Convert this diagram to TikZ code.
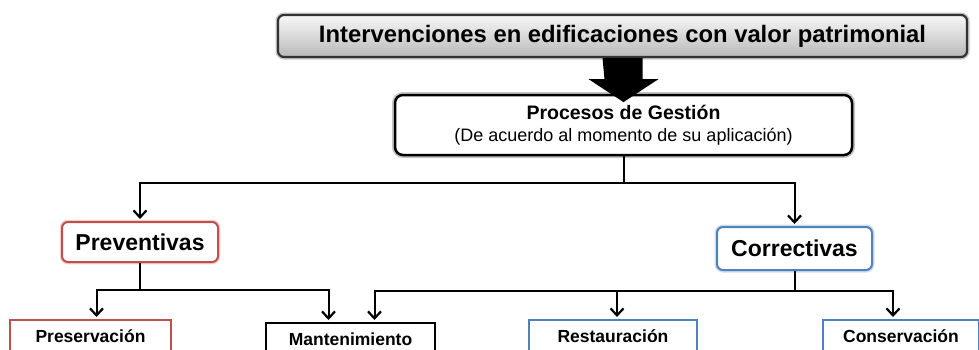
\documentclass[tikz,border=0pt]{standalone}
\usepackage{fontspec}
\setmainfont{Liberation Sans}
\usetikzlibrary{arrows.meta}
\definecolor{cred}{HTML}{C0504D}
\definecolor{cblue}{HTML}{4F81BD}
\begin{document}
\begin{tikzpicture}[x=1pt,y=-1pt,
  ln/.style={line width=2pt, draw=black},
  arr/.style={ln, -{Straight Barb[length=7pt,width=13pt,line width=2.2pt]}, shorten >=2pt},
  sqbox/.style={draw, line width=2pt, fill=white, inner sep=0pt, font=\fontsize{17.5}{20}\selectfont\bfseries},
]
\useasboundingbox (0,0) rectangle (979,349);
\clip (0,0) rectangle (979,349);

% top box
\node[draw=black!80, line width=2.2pt, rounded corners=6pt, top color=gray!6, bottom color=gray!55,
  minimum width=689pt, minimum height=42pt, inner sep=0pt,
  preaction={draw=black!45, line width=5pt, opacity=0.5},
  font=\fontsize{23.8}{26}\selectfont\bfseries] (top) at (622.5,36)
  {Intervenciones en edificaciones con valor patrimonial};

% procesos box
\node[draw=black, line width=2.5pt, rounded corners=8pt, fill=white,
  minimum width=457pt, minimum height=60pt, inner sep=0pt, align=center,
  preaction={draw=black!45, line width=6pt, opacity=0.5}] (proc) at (623.5,125)
  {{\fontsize{19.5}{21}\selectfont\bfseries Procesos de Gestión}\\[8pt]
   {\fontsize{18}{20}\selectfont (De acuerdo al momento de su aplicación)}};

% big arrow
\fill[black] ([xshift=-20pt]top.south) -- ++(40,0) -- ++(0,21) -- ++(16,0)
  -- ++(-35,23) -- ++(-35,-23) -- ++(16,0) -- cycle;

% level 2
\node[draw=cred, line width=2pt, rounded corners=6pt, fill=white,
  minimum width=156pt, minimum height=40pt, inner sep=0pt,
  preaction={draw=cred!60, line width=4.5pt, opacity=0.45},
  font=\fontsize{23}{26}\selectfont\bfseries] (prev) at (140,242) {Preventivas};
\node[draw=cblue, line width=2pt, rounded corners=6pt, fill=white,
  minimum width=155pt, minimum height=43pt, inner sep=0pt,
  preaction={draw=cblue!60, line width=5pt, opacity=0.45},
  font=\fontsize{23}{26}\selectfont\bfseries] (corr) at (794.5,248.5) {Correctivas};

% level 3
\node[sqbox, draw=cred, minimum width=161pt, minimum height=32pt] (pres) at (90.5,336) {Preservación};
\node[sqbox, draw=black, minimum width=169pt, minimum height=32pt] (mant) at (350.5,339) {Mantenimiento};
\node[sqbox, draw=cblue, minimum width=168pt, minimum height=32pt] (rest) at (613,336) {Restauración};
\node[sqbox, draw=cblue, minimum width=156pt, minimum height=32pt] (cons) at (901,336) {Conservación};

% connectors
\coordinate (j1) at (623.5,183);
\coordinate (j2) at (140,290);
\coordinate (j3) at (794.5,291);
\draw[ln] (proc.south) -- (j1);
\draw[arr] (j1) -| (prev.north);
\draw[arr] (j1) -| (corr.north);
\draw[ln] (prev.south) -- (j2);
\draw[arr] (j2) -| ([xshift=6pt]pres.north);
\draw[arr] (j2) -| ([xshift=-22pt]mant.north);
\draw[ln] (corr.south) -- (j3);
\draw[arr] (j3) -| ([xshift=24pt]mant.north);
\draw[arr] (j3) -| ([xshift=4pt]rest.north);
\draw[arr] (j3) -| ([xshift=-8pt]cons.north);
\end{tikzpicture}
\end{document}
